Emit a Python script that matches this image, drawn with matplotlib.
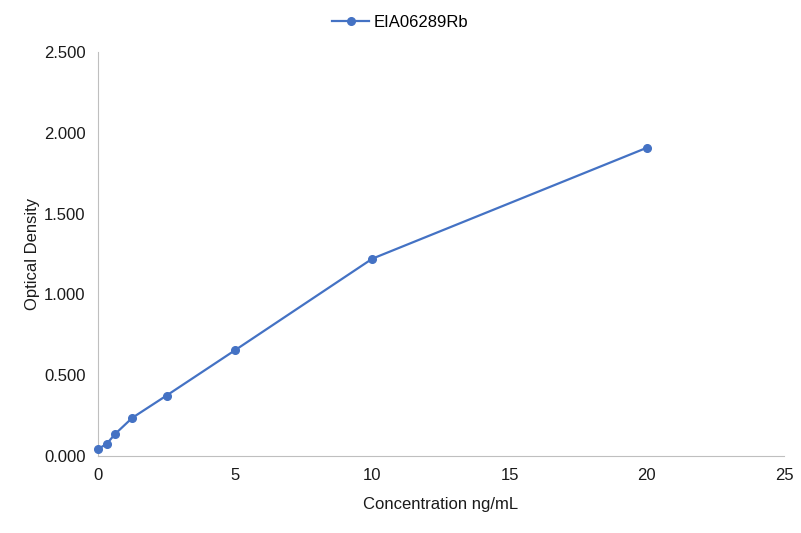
import matplotlib.pyplot as plt
from matplotlib.ticker import FormatStrFormatter

plt.rcParams['font.family'] = ['Liberation Sans', 'DejaVu Sans']

concentration = [0, 0.313, 0.625, 1.25, 2.5, 5, 10, 20]
optical_density = [0.043, 0.074, 0.136, 0.236, 0.374, 0.655, 1.221, 1.907]
series_name = 'EIA06289Rb'

fig = plt.figure(figsize=(8.01, 5.33), dpi=100)
ax = fig.add_axes([0.1223, 0.1445, 0.8564, 0.758])

color = '#4472C4'
ax.plot(concentration, optical_density, color=color, linewidth=1.6,
        marker='o', markersize=5.5, label=series_name, clip_on=False, zorder=3)

ax.set_xlim(0, 25)
ax.set_ylim(0, 2.5)
ax.set_xticks([0, 5, 10, 15, 20, 25])
ax.set_yticks([0, 0.5, 1.0, 1.5, 2.0, 2.5])
ax.yaxis.set_major_formatter(FormatStrFormatter('%.3f'))

for side in ['top', 'right']:
    ax.spines[side].set_visible(False)
for side in ['left', 'bottom']:
    ax.spines[side].set_color('#BFBFBF')
ax.tick_params(length=0, labelsize=12, colors='#1a1a1a', pad=9)

ax.set_xlabel('Concentration ng/mL', fontsize=12, color='#1a1a1a', labelpad=10)
ax.set_ylabel('Optical Density', fontsize=12, color='#1a1a1a', labelpad=3)

ax.legend(loc='center', bbox_to_anchor=(0.5, 0.958), bbox_transform=fig.transFigure,
          frameon=False, fontsize=12, handlelength=2.2, handletextpad=0.3)

fig.savefig('out.png', dpi=100)
